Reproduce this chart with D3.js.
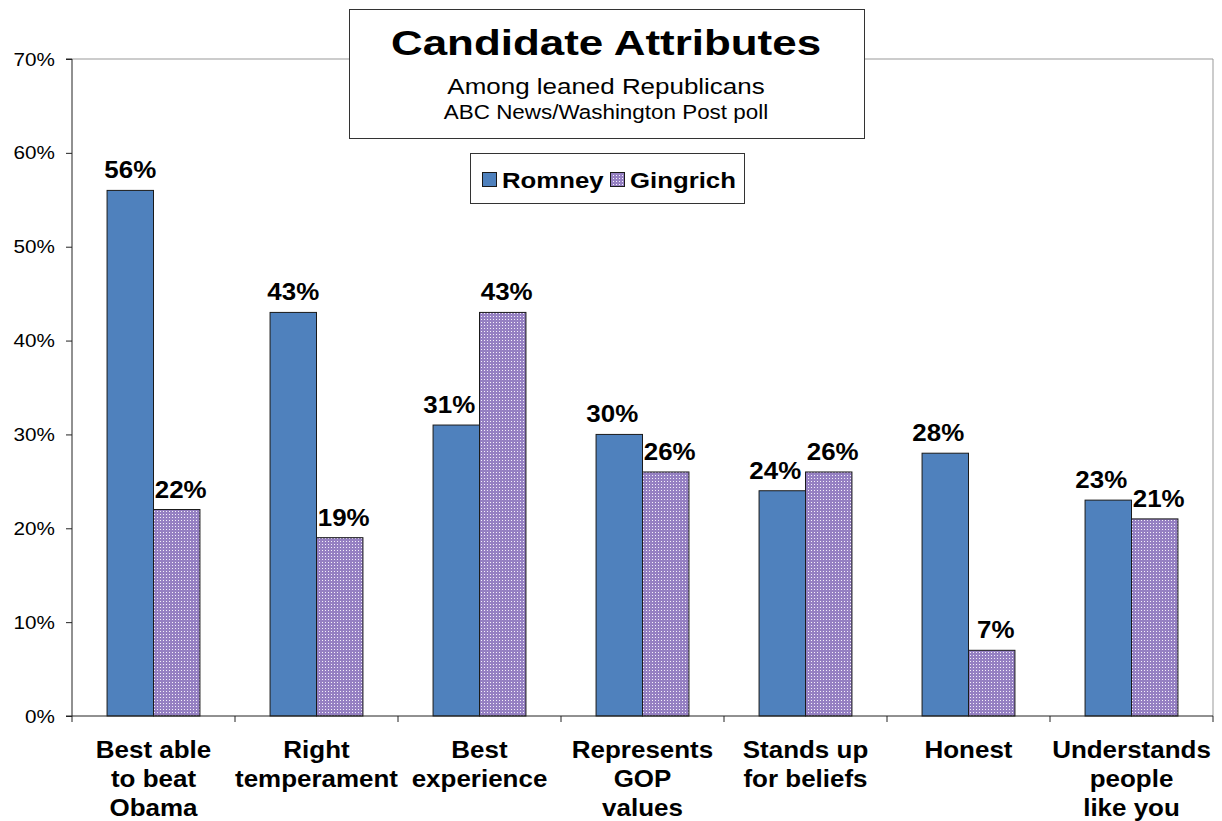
<!DOCTYPE html>
<html><head><meta charset="utf-8">
<script src="https://cdn.jsdelivr.net/npm/d3@7"></script>
<style>body{margin:0;background:#fff}svg{display:block;font-family:"Liberation Sans",Arial,sans-serif}</style>
</head><body><svg id="c" width="1222" height="821"></svg>
<script>
const categories = [["Best able","to beat","Obama"],["Right","temperament"],["Best","experience"],["Represents","GOP","values"],["Stands up","for beliefs"],["Honest"],["Understands","people","like you"]];
const romney = [56,43,31,30,24,28,23];
const gingrich = [22,19,43,26,26,7,21];
const series = ["Romney","Gingrich"];
const yTicks = [0,10,20,30,40,50,60,70];

const svg = d3.select("#c");
const L=72, R=1213, T=59, B=716;
const defs = svg.append("defs");
const pat = defs.append("pattern").attr("id","dots").attr("patternUnits","userSpaceOnUse").attr("width",3).attr("height",3);
pat.append("rect").attr("width",3).attr("height",3).attr("fill","#9580c2");
pat.append("rect").attr("x",1).attr("y",1).attr("width",1).attr("height",1).attr("fill","#f4f0fa");

// text helper with horizontal stretch
function txt(parent, x, y, str, size, bold, sx, anchor){
  const g = parent.append("g").attr("transform",`translate(${x},${y}) scale(${sx},1)`);
  return g.append("text").attr("x",0).attr("y",0).attr("text-anchor",anchor||"middle")
    .attr("font-size",size).attr("font-weight",bold?"bold":"normal").attr("fill","#000").text(str);
}

const idx = d3.range(categories.length);
const x0 = d3.scaleBand().domain(idx).range([L,R]).paddingInner(0).paddingOuter(0);
const x1 = d3.scaleBand().domain(series).range([0,x0.bandwidth()]).paddingInner(0).paddingOuter(0.755);
const y = d3.scaleLinear().domain([0,70]).range([B,T]);

// plot border
svg.append("path").attr("d",`M${L},${T}H${R}V${B}`).attr("fill","none").attr("stroke","#999").attr("stroke-width",1);

const g = svg.append("g");
idx.forEach(i=>{
  [{s:"Romney",v:romney[i]},{s:"Gingrich",v:gingrich[i]}].forEach(d=>{
    const bx = x0(i)+x1(d.s);
    g.append("rect").attr("x",bx).attr("y",y(d.v)).attr("width",x1.bandwidth()).attr("height",y(0)-y(d.v))
      .attr("fill", d.s==="Romney"?"#4f81bd":"url(#dots)").attr("stroke","#1a1a1a").attr("stroke-width",1);
    const off = d.s==="Romney" ? (d.v<40?-7:0) : 4;
    txt(g, bx+x1.bandwidth()/2+off, y(d.v)-12, d.v+"%", 24, true, 1.08);
  });
});

// y axis
const ya = svg.append("g").attr("transform",`translate(${L},0)`)
  .call(d3.axisLeft(y).tickValues(yTicks).tickSize(6).tickFormat(""));
ya.select(".domain").attr("stroke","#222").attr("d",`M-6,${T}H0V${B}H-6`);
ya.selectAll(".tick line").attr("stroke","#222");
yTicks.forEach(t=>txt(svg, L-17, y(t)+6.5, t+"%", 18, false, 1.15, "end"));

// x axis
const xa = svg.append("g").attr("transform",`translate(0,${B})`);
xa.append("line").attr("x1",L).attr("x2",R).attr("stroke","#222");
idx.concat([categories.length]).forEach(i=>{
  const xx = i<categories.length? x0(i) : R;
  xa.append("line").attr("x1",xx).attr("x2",xx).attr("y1",0).attr("y2",6).attr("stroke","#222");
});
idx.forEach(i=>{
  categories[i].forEach((line,k)=>txt(xa, x0(i)+x0.bandwidth()/2, 42+k*29, line, 24.5, true, 1.06));
});

// title box
svg.append("rect").attr("x",349.5).attr("y",9.5).attr("width",515).attr("height",129).attr("fill","#fff").attr("stroke","#333");
txt(svg, 606, 55, "Candidate Attributes", 36, true, 1.22);
txt(svg, 606, 94, "Among leaned Republicans", 22, false, 1.18);
txt(svg, 606, 119, "ABC News/Washington Post poll", 19.5, false, 1.15);

// legend
svg.append("rect").attr("x",470.5).attr("y",153.5).attr("width",274).attr("height",50).attr("fill","#fff").attr("stroke","#333");
const leg = [{s:"Romney",x:482},{s:"Gingrich",x:610}];
leg.forEach(l=>{
  svg.append("rect").attr("x",l.x+0.5).attr("y",172.5).attr("width",14).attr("height",14).attr("fill",l.s==="Romney"?"#4f81bd":"url(#dots)").attr("stroke","#1a1a1a");
  txt(svg, l.x+20, 188, l.s, 23, true, 1.12, "start");
});
</script></body></html>
